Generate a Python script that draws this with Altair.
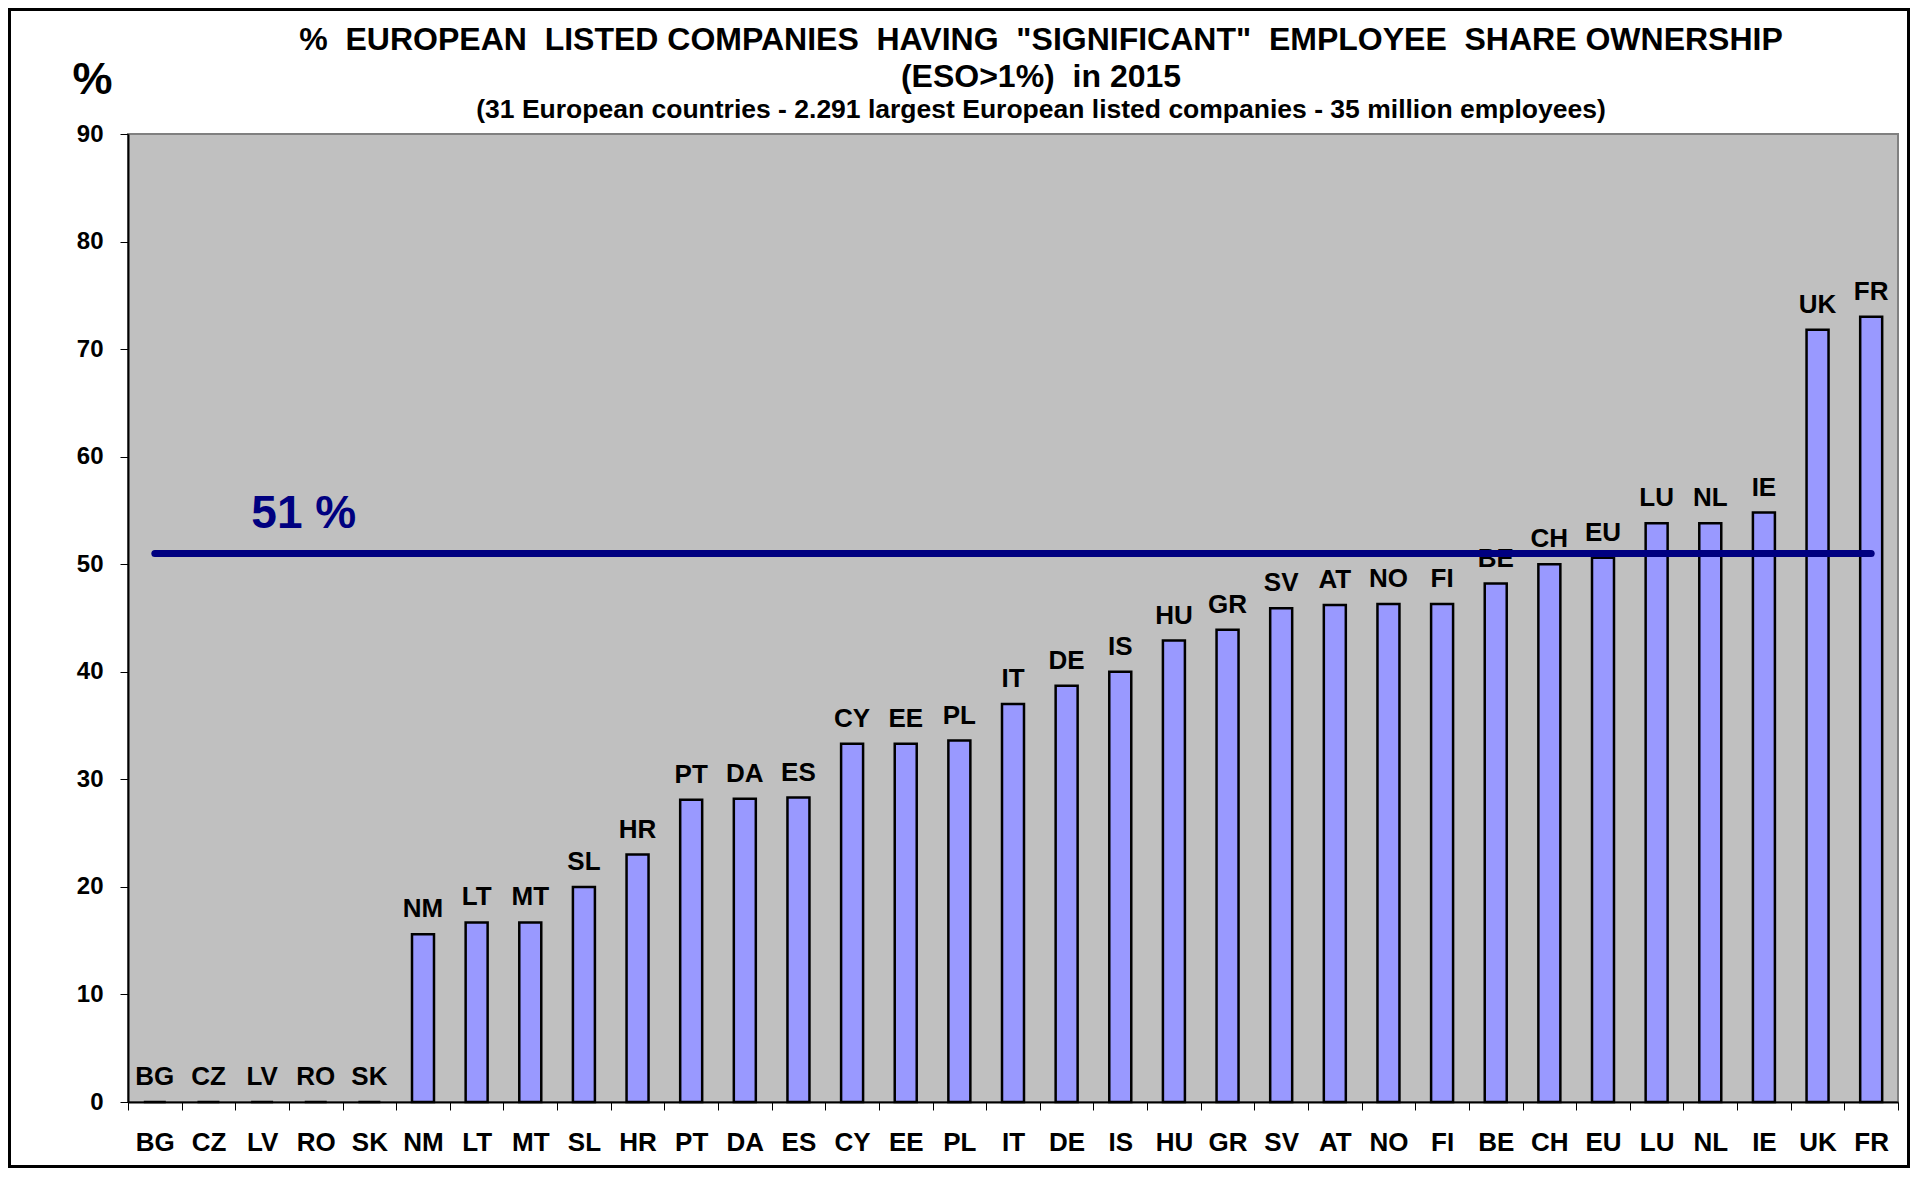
import altair as alt
import pandas as pd

countries = ["BG", "CZ", "LV", "RO", "SK", "NM", "LT", "MT", "SL", "HR", "PT", "DA", "ES",
             "CY", "EE", "PL", "IT", "DE", "IS", "HU", "GR", "SV", "AT", "NO", "FI", "BE",
             "CH", "EU", "LU", "NL", "IE", "UK", "FR"]
values = [0, 0, 0, 0, 0, 15.6, 16.7, 16.7, 20.0, 23.0, 28.1, 28.2, 28.3,
          33.3, 33.3, 33.6, 37.0, 38.7, 40.0, 42.9, 43.9, 45.9, 46.2, 46.3, 46.3, 48.2,
          50.0, 50.6, 53.8, 53.8, 54.8, 71.8, 73.0]
ref_value = 51
ref_label = "51 %"
title_lines = ["%\u00a0 EUROPEAN\u00a0 LISTED COMPANIES\u00a0 HAVING\u00a0 \"SIGNIFICANT\"\u00a0 EMPLOYEE\u00a0 SHARE OWNERSHIP",
               "(ESO>1%)\u00a0 in 2015"]
subtitle = "(31 European countries - 2.291 largest European listed companies - 35 million employees)"

FONT = "Liberation Sans, Arial, Helvetica, sans-serif"
W, H = 1770, 968
PAD = {"left": 120, "top": 126, "right": 12, "bottom": 66}

df = pd.DataFrame({"country": countries, "value": values})
ref_df = pd.DataFrame({"start": [countries[0]], "end": [countries[-1]], "y": [ref_value],
                       "label": [ref_label], "anchor": [countries[3]]})

xscale = alt.Scale(domain=countries, paddingInner=0, paddingOuter=0)
yscale = alt.Scale(domain=[0, 90], nice=False)

x_axis = alt.Axis(title=None, labelAngle=0, labelFont=FONT, labelFontSize=26, labelFontWeight="bold",
                  labelColor="black", tickBand="extent", tickSize=8, tickColor="black", tickWidth=1,
                  domainColor="black", domainWidth=2, labelPadding=19)
y_axis = alt.Axis(title="%", titleAngle=0, titleX=-36, titleY=-55, titleAlign="center",
                  titleBaseline="middle", titleFont=FONT, titleFontSize=45, titleFontWeight="bold",
                  titleColor="black", values=list(range(0, 91, 10)), labelFont=FONT, labelFontSize=24,
                  labelFontWeight="bold", labelColor="black", tickSize=8, tickColor="black",
                  tickWidth=1, domainColor="black", domainWidth=2, labelPadding=17, grid=False)

bars = alt.Chart(df).mark_bar(width=alt.RelativeBandSize(0.41), color="#9999FF", stroke="black",
                              strokeWidth=2.5).encode(
    x=alt.X("country:N", scale=xscale, axis=x_axis, sort=None),
    y=alt.Y("value:Q", scale=yscale, axis=y_axis),
)

labels = alt.Chart(df).mark_text(font=FONT, fontSize=26, fontWeight="bold", color="black",
                                 baseline="alphabetic", dy=-17).encode(
    x=alt.X("country:N", scale=xscale, sort=None),
    y=alt.Y("value:Q", scale=yscale),
    text="country:N",
)

ref_rule = alt.Chart(ref_df).mark_rule(color="#000080", strokeWidth=7, strokeCap="round").encode(
    x=alt.X("start:N", scale=xscale, sort=None),
    x2="end:N",
    y=alt.Y("y:Q", scale=yscale),
)

ref_text = alt.Chart(ref_df).mark_text(font=FONT, fontSize=46, fontWeight="bold", color="#000080",
                                       baseline="alphabetic", align="center", dx=-12, dy=-25).encode(
    x=alt.X("anchor:N", scale=xscale, sort=None),
    y=alt.Y("y:Q", scale=yscale),
    text="label:N",
)

frame = alt.Chart(pd.DataFrame({"k": [0]})).mark_rect(fill=None, stroke="black", strokeWidth=3).encode(
    x=alt.value(-PAD["left"] + 1.5), x2=alt.value(W + PAD["right"] - 1.5),
    y=alt.value(-PAD["top"] + 1.5), y2=alt.value(H + PAD["bottom"] - 1.5),
)

chart = alt.layer(bars, labels, ref_rule, ref_text, frame).properties(
    width=W, height=H,
    title=alt.TitleParams(text=title_lines, subtitle=subtitle, font=FONT, fontSize=32,
                          fontWeight="bold", color="black", lineHeight=37, anchor="middle", dx=28,
                          dy=128, offset=12, subtitleFont=FONT, subtitleFontSize=26.5,
                          subtitleFontWeight="bold", subtitleColor="black", subtitlePadding=3),
    autosize=alt.AutoSizeParams(type="none"),
    padding=PAD,
    background="white",
).configure_view(fill="#C0C0C0", stroke="#808080", strokeWidth=2)

chart.save("out.html", embed_options={"renderer": "svg", "actions": False})
